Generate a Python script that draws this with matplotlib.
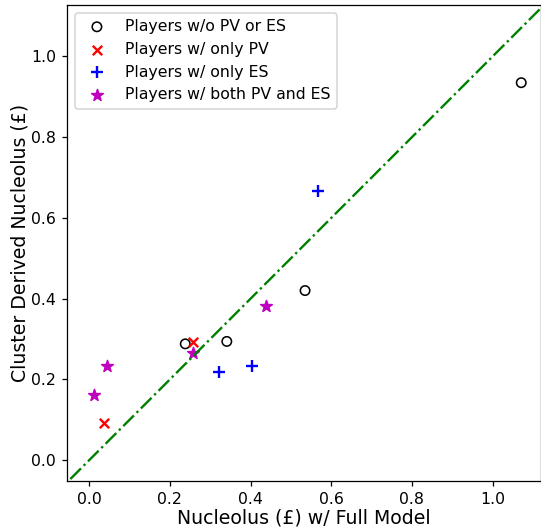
import matplotlib
matplotlib.use("Agg")
import matplotlib.pyplot as plt

# values
none_x = [0.238, 0.341, 0.535, 1.071]
none_y = [0.288, 0.294, 0.420, 0.935]

pv_x = [0.036, 0.257]
pv_y = [0.092, 0.292]

es_x = [0.321, 0.404, 0.566]
es_y = [0.219, 0.232, 0.667]

both_x = [0.012, 0.044, 0.257, 0.437]
both_y = [0.161, 0.233, 0.265, 0.382]

dpi = 113
fig = plt.figure(figsize=(541 / dpi, 531 / dpi), dpi=dpi)
ax = fig.add_axes([0.124, 0.094, 0.876, 0.897])

ax.scatter(none_x, none_y, facecolors="none", edgecolors="k", label="Players w/o PV or ES")
ax.scatter(pv_x, pv_y, c="r", marker="x", label="Players w/ only PV")
ax.scatter(es_x, es_y, c="b", marker="+", s=55, label="Players w/ only ES")
ax.scatter(both_x, both_y, c="m", marker="*", s=60, label="Players w/ both PV and ES")
ax.plot([-0.2, 1.3], [-0.2, 1.3], "g-.")

ax.set_xlim(-0.055, 1.12)
ax.set_ylim(-0.052, 1.128)
ax.set_xlabel("Nucleolus (£) w/ Full Model", fontsize=12, labelpad=1)
ax.set_ylabel("Cluster Derived Nucleolus (£)", fontsize=12, labelpad=1)
ax.legend(loc="upper left")

fig.savefig("out.png", dpi=dpi)
